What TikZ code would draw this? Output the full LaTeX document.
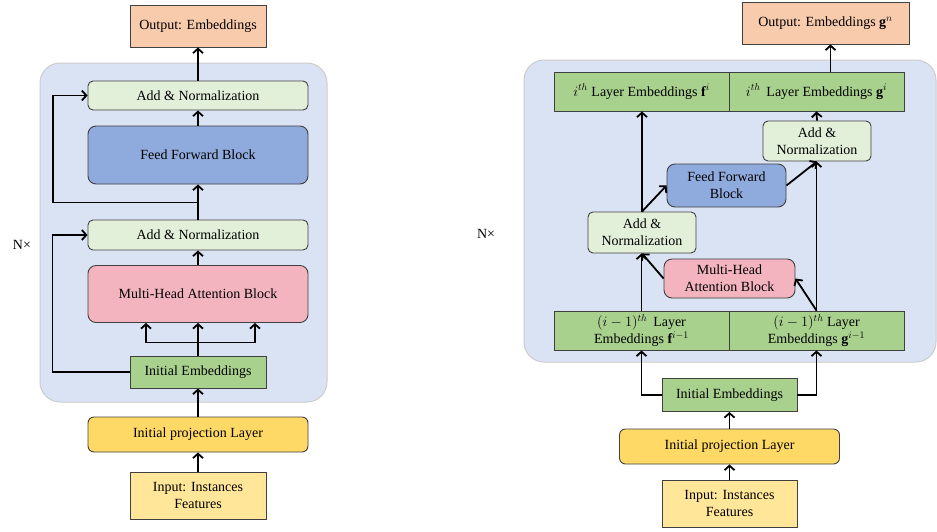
\documentclass[tikz,border=0pt]{standalone}
\usepackage{fontspec}
\setmainfont{Liberation Serif}
\usepackage{xcolor}
\usepackage{tikz}
\usetikzlibrary{arrows.meta, positioning}

\definecolor{outcol}{HTML}{F8CBAD}
\definecolor{bgcol}{HTML}{DAE3F3}
\definecolor{normcol}{HTML}{E2F0D9}
\definecolor{ffcol}{HTML}{8FAADC}
\definecolor{mhacol}{HTML}{F4B4BF}
\definecolor{embcol}{HTML}{A9D18E}
\definecolor{projcol}{HTML}{FFD966}
\definecolor{incol}{HTML}{FFE699}

\begin{document}
\begin{tikzpicture}[
    x=1pt, y=-1pt,
    font=\fontsize{14}{17}\selectfont,
    >={Straight Barb[length=4.5pt,width=10pt]},
    % Node styles
    plainbox/.style={draw=black!75, line width=0.9pt, align=center, inner sep=2pt},
    outbox/.style={plainbox, fill=outcol, minimum width=#1, minimum height=42pt},
    normbox/.style={plainbox, fill=normcol, rounded corners=5pt},
    ffbox/.style={plainbox, fill=ffcol, rounded corners=8pt},
    mhabox/.style={plainbox, fill=mhacol, rounded corners=8pt},
    embbox/.style={plainbox, fill=embcol},
    projbox/.style={plainbox, fill=projcol, rounded corners=6pt, minimum width=220pt, minimum height=35pt},
    inbox/.style={plainbox, fill=incol, minimum width=136pt, minimum height=47pt},
    panel/.style={draw=black!20, line width=1pt, fill=bgcol, rounded corners=20pt},
    arrow/.style={->, line width=1.8pt, color=black}
]
\useasboundingbox (0,0) rectangle (937,531);

% ========== Backgrounds ==========
\draw[panel] (40,63) rectangle (327,402);
\draw[panel] (524,60) rectangle (936,362);

% ========== LEFT: standard encoder ==========
\node[outbox=136pt] (outL) at (198,26) {Output: Embeddings};
\node[normbox, minimum width=220pt, minimum height=29pt] (an2L) at (198,95.5) {Add \& Normalization};
\node[ffbox, minimum width=220pt, minimum height=58pt] (ffL) at (198,155) {Feed Forward Block};
\node[normbox, minimum width=220pt, minimum height=30pt] (an1L) at (198,235) {Add \& Normalization};
\node[mhabox, minimum width=220pt, minimum height=57pt] (mhaL) at (198,294) {Multi-Head Attention Block};
\node[embbox, minimum width=136pt, minimum height=32pt] (embL) at (198,372) {Initial Embeddings};
\node[projbox] (projL) at (198,434.5) {Initial projection Layer};
\node[inbox] (inL) at (198,495.5) {Input: Instances\\Features};
\node (nxL) at (22,245) {N×};

% ========== RIGHT: two-stream encoder ==========
\node[outbox=167pt] (outR) at (825.5,23) {Output: Embeddings $\mathbf{g}^n$};
\node[embbox, minimum width=175pt, minimum height=39pt] (fiR) at (641.5,91.5) {$i^{th}$ Layer Embeddings $\mathbf{f}^i$};
\node[embbox, minimum width=175pt, minimum height=39pt] (giR) at (816.5,91.5) {$i^{th}$\, Layer Embeddings $\mathbf{g}^i$};
\node[normbox, minimum width=108pt, minimum height=40pt] (an2R) at (817,141) {Add \&\\Normalization};
\node[ffbox, minimum width=119pt, minimum height=43pt] (ffR) at (726.5,185.5) {Feed Forward\\Block};
\node[normbox, minimum width=108pt, minimum height=41pt] (an1R) at (642,232.5) {Add \&\\Normalization};
\node[mhabox, minimum width=131pt, minimum height=39pt] (mhaR) at (729.5,278.5) {Multi-Head\\Attention Block};
\node[embbox, minimum width=175pt, minimum height=39pt] (fR) at (641.5,330.5) {$(i-1)^{th}$\, Layer\\Embeddings $\mathbf{f}^{i-1}$};
\node[embbox, minimum width=175pt, minimum height=39pt] (gR) at (816.5,330.5) {$(i-1)^{th}$ Layer\\Embeddings $\mathbf{g}^{i-1}$};
\node[embbox, minimum width=135pt, minimum height=33pt] (embR) at (729.5,395) {Initial Embeddings};
\node[projbox] (projR) at (729.5,446.5) {Initial projection Layer};
\node[inbox, minimum width=135pt] (inR) at (729.5,503.5) {Input: Instances\\Features};
\node (nxR) at (486,234) {N×};

% ========== ARROWS (left) ==========
\draw[arrow] (inL.north) -- (projL.south);
\draw[arrow] (projL.north) -- (embL.south);
\draw[arrow] (embL.north) -- (mhaL.south);
\draw[arrow] (embL.north) -- ++(0,-13) -| ([xshift=-52pt]mhaL.south);
\draw[arrow] (embL.north) -- ++(0,-13) -| ([xshift=57pt]mhaL.south);
\draw[arrow] (mhaL.north) -- (an1L.south);
\draw[arrow] (an1L.north) -- (ffL.south);
\draw[arrow] (ffL.north) -- (an2L.south);
\draw[arrow] (an2L.north) -- (outL.south);
% residual paths
\draw[arrow] (embL.west) -- ++(-77,0) |- (an1L.west);
\draw[arrow] (an1L.north) ++(0,-17) -- ++(-145,0) |- (an2L.west);

% ========== ARROWS (right) ==========
\draw[arrow] (inR.north) -- (projR.south);
\draw[arrow] (projR.north) -- (embR.south);
\draw[arrow] (embR.west) -| (fR.south);
\draw[arrow] (embR.east) -| (gR.south);
\draw[arrow] (fR.north) -- (fR.north |- an1R.south);
\draw[arrow] (mhaR.west) -- (an1R.south);
\draw[arrow] (gR.north) -- (mhaR.east);
\draw[arrow] (gR.north) -- (gR.north |- an2R.south);
\draw[arrow] (an1R.north) -- (an1R.north |- fiR.south);
\draw[arrow] (an1R.north) -- (ffR.west);
\draw[arrow] (ffR.east) -- (an2R.south);
\draw[arrow] (an2R.north) -- (giR.south);
\draw[arrow] (giR.north -| outR.south) ++(5,0) -- ([xshift=5pt]outR.south);

\end{tikzpicture}
\end{document}
